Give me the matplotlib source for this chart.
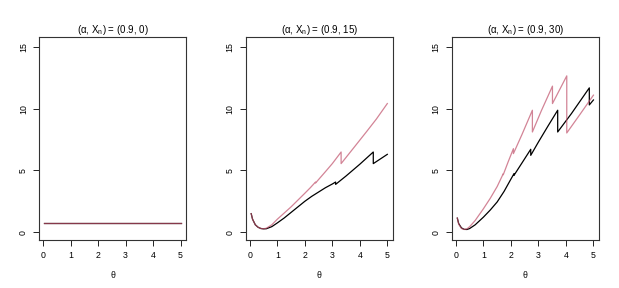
import matplotlib
matplotlib.use("Agg")
import matplotlib.pyplot as plt

plt.rcParams["font.family"] = ["Liberation Sans", "DejaVu Sans"]
plt.rcParams["mathtext.fontset"] = "custom"
plt.rcParams["mathtext.rm"] = "Liberation Sans"
plt.rcParams["mathtext.it"] = "Liberation Sans"

# panel titles
titles = [r"(α, X$_{\mathrm{n}}$) = (0.9, 0)",
          r"(α, X$_{\mathrm{n}}$) = (0.9, 15)",
          r"(α, X$_{\mathrm{n}}$) = (0.9, 30)"]

# panel 1 (X_n = 0): both curves flat
p1_x = [0.05, 5.0]
p1_black = [0.73, 0.73]
p1_pink = [0.73, 0.73]

# panel 2 (X_n = 15)
p2_black_x = [0.05, 0.1, 0.2, 0.3, 0.4, 0.5, 0.6, 0.8, 1.0, 1.25, 1.5, 1.75, 2.0, 2.25,
              2.5, 2.75, 3.0, 3.12, 3.12, 3.5, 4.0, 4.49, 4.49, 5.0]
p2_black_y = [1.5, 1.05, 0.6, 0.4, 0.3, 0.27, 0.28, 0.45, 0.75, 1.15, 1.6, 2.05, 2.5, 2.9,
              3.25, 3.6, 3.9, 4.06, 3.87, 4.55, 5.5, 6.49, 5.55, 6.3]
p2_pink_x = [0.05, 0.1, 0.2, 0.3, 0.4, 0.5, 0.6, 0.8, 1.0, 1.25, 1.5, 1.75, 2.0, 2.2,
             2.39, 2.39, 2.75, 3.0, 3.32, 3.32, 3.75, 4.25, 4.6, 5.0]
p2_pink_y = [1.5, 1.05, 0.6, 0.4, 0.3, 0.28, 0.32, 0.6, 1.05, 1.55, 2.05, 2.6, 3.15, 3.6,
             4.06, 3.98, 4.9, 5.55, 6.49, 5.55, 6.75, 8.15, 9.15, 10.41]

# panel 3 (X_n = 30)
p3_black_x = [0.05, 0.1, 0.2, 0.3, 0.4, 0.5, 0.7, 1.0, 1.25, 1.5, 1.75, 2.0, 2.11, 2.11,
              2.4, 2.72, 2.72, 3.0, 3.35, 3.7, 3.7, 4.2, 4.85, 4.85, 5.0]
p3_black_y = [1.14, 0.7, 0.35, 0.23, 0.22, 0.3, 0.6, 1.22, 1.8, 2.45, 3.3, 4.3, 4.73, 4.6,
              5.6, 6.71, 6.22, 7.3, 8.6, 9.87, 8.11, 9.6, 11.68, 10.3, 10.7]
p3_pink_x = [0.05, 0.1, 0.2, 0.3, 0.4, 0.5, 0.7, 1.0, 1.25, 1.5, 1.72, 1.72, 1.9, 2.09,
             2.09, 2.4, 2.78, 2.78, 3.1, 3.51, 3.51, 4.03, 4.03, 4.5, 5.0]
p3_pink_y = [1.14, 0.65, 0.3, 0.22, 0.27, 0.45, 0.95, 1.9, 2.75, 3.7, 4.73, 4.65, 5.7, 6.76,
             6.36, 7.9, 9.87, 8.11, 9.8, 11.82, 10.41, 12.65, 8.03, 9.5, 11.09]

panels = [
    (p1_x, p1_black, p1_x, p1_pink),
    (p2_black_x, p2_black_y, p2_pink_x, p2_pink_y),
    (p3_black_x, p3_black_y, p3_pink_x, p3_pink_y),
]

pink = "#C0506A"

fig = plt.figure(figsize=(6.19, 2.88), dpi=100)
lefts = [0.063, 0.397, 0.730]

for i, (bx, by, px, py) in enumerate(panels):
    ax = fig.add_axes([lefts[i], 0.1667, 0.2375, 0.705])
    ax.plot(bx, by, color="black", lw=0.9)
    ax.plot(px, py, color=pink, lw=0.9, alpha=0.7)
    ax.set_xlim(-0.148, 5.198)
    ax.set_ylim(-0.63, 15.8)
    ax.set_xticks([0, 1, 2, 3, 4, 5])
    ax.set_yticks([0, 5, 10, 15])
    ax.tick_params(labelsize=6.3, length=4, width=0.6, pad=4)
    for lab in ax.get_yticklabels():
        lab.set_rotation(90)
        lab.set_va("center")
    for s in ax.spines.values():
        s.set_linewidth(0.8)
        s.set_color("#333333")
    ax.set_title(titles[i], fontsize=7, pad=1.5)
    ax.set_xlabel("θ", fontsize=6.3, labelpad=8)

fig.savefig("out.png", dpi=100, facecolor="white")
